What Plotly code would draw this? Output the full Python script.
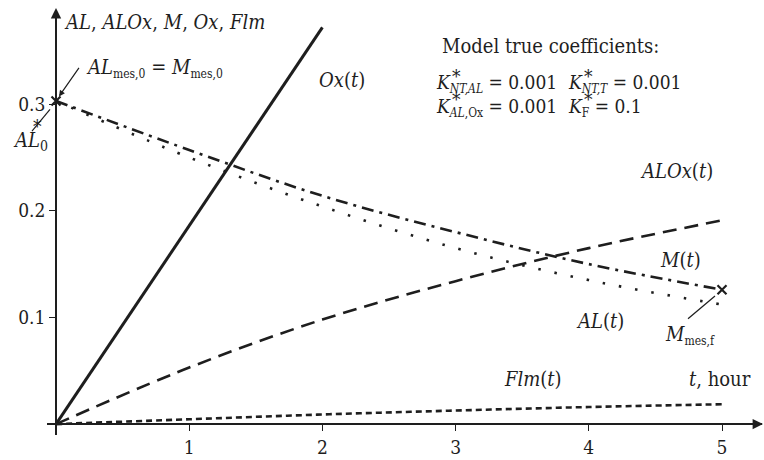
import plotly.graph_objects as go

# ---- data ----
t = [0, 1, 2, 3, 4, 5]
t_ox = [0, 1, 2]
ox_vals = [0.0, 0.186, 0.372]
m_vals = [0.303, 0.257, 0.214, 0.180, 0.150, 0.126]
al_vals = [0.303, 0.250, 0.204, 0.165, 0.135, 0.112]
alox_vals = [0.0, 0.053, 0.098, 0.134, 0.165, 0.191]
flm_vals = [0.0, 0.0045, 0.0090, 0.0127, 0.0160, 0.0186]
meas_t = [0, 5]
meas_m = [0.303, 0.126]
x_ticks = [1, 2, 3, 4, 5]
y_ticks = [0.1, 0.2, 0.3]
y_tick_text = ["0.1", "0.2", "0.3"]

W, H = 764, 460
ML, MR, MT, MB = 47, 2, 10, 22
PW, PH = W - ML - MR, H - MT - MB
FONT = "'DejaVu Serif Condensed', 'DejaVu Serif', serif"
INK = "#1e1e1e"


def P(x, y):
    """image pixel -> paper fraction"""
    return (x - ML) / PW, (H - MB - y) / PH


def sub(s, px=12):
    return '<sub><span style="font-size:%dpx">%s</span></sub>' % (px, s)


fig = go.Figure()
fig.add_trace(go.Scatter(x=t_ox, y=ox_vals, mode="lines",
                         line=dict(color=INK, width=3)))
fig.add_trace(go.Scatter(x=t, y=m_vals, mode="lines",
                         line=dict(color=INK, width=2.6, dash="12px,6px,3px,6px",
                                   shape="spline")))
fig.add_trace(go.Scatter(x=t, y=al_vals, mode="lines",
                         line=dict(color=INK, width=2.6, dash="2.5px,14px",
                                   shape="spline")))
fig.add_trace(go.Scatter(x=t, y=alox_vals, mode="lines",
                         line=dict(color=INK, width=2.6, dash="14px,8px",
                                   shape="spline")))
fig.add_trace(go.Scatter(x=t, y=flm_vals, mode="lines",
                         line=dict(color=INK, width=2.6, dash="6px,4px",
                                   shape="spline")))
fig.add_trace(go.Scatter(x=meas_t, y=meas_m, mode="markers", cliponaxis=False,
                         marker=dict(symbol="x-thin", size=9,
                                     line=dict(color=INK, width=2.2))))

x0p = (56 - ML) / PW
y0p = (H - MB - 427) / PH

fig.update_layout(
    width=W, height=H, showlegend=False,
    margin=dict(l=ML, r=MR, t=MT, b=MB, pad=0),
    paper_bgcolor="white", plot_bgcolor="white",
    font=dict(family=FONT, size=18, color=INK),
    xaxis=dict(range=[(ML - 56) / 133.2, (W - MR - 56) / 133.2],
               anchor="free", position=y0p,
               showgrid=False, zeroline=False,
               showline=True, linecolor=INK, linewidth=1.6,
               ticks="outside", ticklen=6, tickwidth=1.4, tickcolor=INK,
               tickvals=x_ticks, ticktext=[str(v) for v in x_ticks],
               tickfont=dict(family=FONT, size=19, color=INK)),
    yaxis=dict(range=[-(H - MB - 427) / 1074, (427 - MT) / 1074],
               anchor="free", position=x0p,
               showgrid=False, zeroline=False,
               showline=True, linecolor=INK, linewidth=1.6,
               ticks="outside", ticklen=6, tickwidth=1.4, tickcolor=INK,
               tickvals=y_ticks, ticktext=y_tick_text,
               tickfont=dict(family=FONT, size=19, color=INK)),
)

ann = []


def txt(x, y, s, size=20, xanchor="center", yanchor="middle"):
    xp, yp = P(x, y)
    ann.append(dict(x=xp, y=yp, xref="paper", yref="paper", text=s,
                    showarrow=False, xanchor=xanchor, yanchor=yanchor,
                    font=dict(family=FONT, size=size, color=INK)))


# axis arrowheads
xa, ya = P(56, 8)
ann.append(dict(x=xa, y=ya, xref="paper", yref="paper", text="", showarrow=True,
                ax=0, ay=16, arrowhead=2, arrowsize=1.3, arrowwidth=1.6,
                arrowcolor=INK))
xa, ya = P(763, 427)
ann.append(dict(x=xa, y=ya, xref="paper", yref="paper", text="", showarrow=True,
                ax=-16, ay=0, arrowhead=2, arrowsize=1.3, arrowwidth=1.6,
                arrowcolor=INK))

# pointer to initial measurement
xa, ya = P(59, 97)
ann.append(dict(x=xa, y=ya, xref="paper", yref="paper", text="", showarrow=True,
                ax=21, ay=-30, arrowhead=2, arrowsize=1, arrowwidth=1.2,
                arrowcolor=INK))

txt(62, 22, "<i>AL</i>, <i>ALOx</i>, <i>M</i>, <i>Ox</i>, <i>Flm</i>", size=20,
    xanchor="left")
txt(84, 68, "<i>AL</i>" + sub("mes,0") + " = <i>M</i>" + sub("mes,0"), size=20,
    xanchor="left")
txt(11, 142, "<i>AL</i>" + sub("0", 14), size=20, xanchor="left")
txt(37, 127, "*", size=19)
txt(342, 80, "<i>Ox</i>(<i>t</i>)", size=20)
txt(550, 46, "Model true coefficients:", size=20)
txt(434, 84, "<i>K</i>" + sub("<i>NT,AL</i>") + " = 0.001", size=19, xanchor="left")
txt(456, 76, "*", size=19)
txt(566, 84, "<i>K</i>" + sub("<i>NT,T</i>") + " = 0.001", size=19, xanchor="left")
txt(588, 76, "*", size=19)
txt(434, 108, "<i>K</i>" + sub("<i>AL</i>,Ox") + " = 0.001", size=19, xanchor="left")
txt(456, 100, "*", size=19)
txt(566, 108, "<i>K</i>" + sub("F") + " = 0.1", size=19, xanchor="left")
txt(588, 100, "*", size=19)
txt(676, 172, "<i>ALOx</i>(<i>t</i>)", size=20)
txt(680, 262, "<i>M</i>(<i>t</i>)", size=20)
txt(600, 323, "<i>AL</i>(<i>t</i>)", size=20)
txt(690, 337, "<i>M</i>" + sub("mes,f"), size=20)
txt(533, 382, "<i>Flm</i>(<i>t</i>)", size=20)
txt(720, 382, "<i>t</i>, hour", size=20)

fig.update_layout(annotations=ann)

shapes = []
for (a, b), (c, d) in [((32, 132), (50, 110)), ((688, 321), (715, 298))]:
    p0, p1 = P(a, b), P(c, d)
    shapes.append(dict(type="line", xref="paper", yref="paper",
                       x0=p0[0], y0=p0[1], x1=p1[0], y1=p1[1],
                       line=dict(color=INK, width=1.2)))
fig.update_layout(shapes=shapes)

fig.write_html("out.html", config={"displayModeBar": False},
               post_script="document.body.style.margin='0px';"
                           "document.body.style.padding='0px';")
